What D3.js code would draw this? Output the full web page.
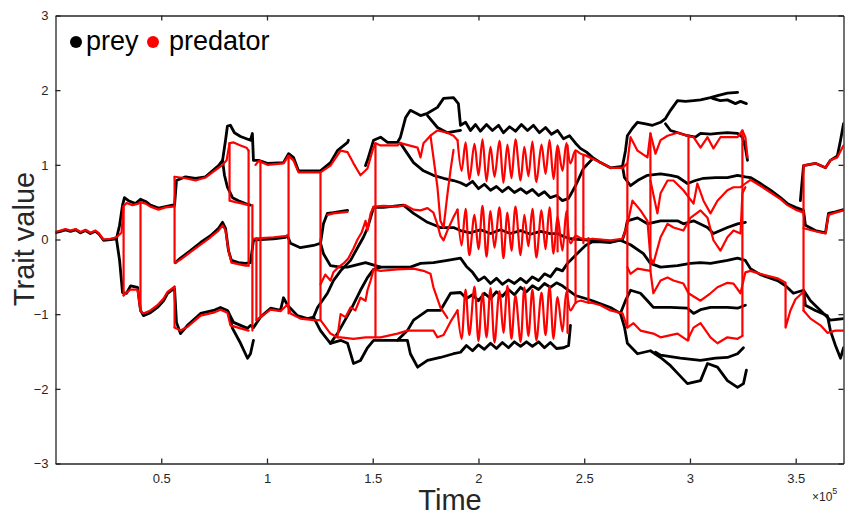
<!DOCTYPE html>
<html>
<head>
<meta charset="utf-8">
<script src="https://cdn.jsdelivr.net/npm/d3@7"></script>
<style>
  body { margin: 0; background: #fff; }
  svg { font-family: "Liberation Sans", Arial, sans-serif; display: block; }
</style>
</head>
<body>
<div id="chart"></div>
<script>
// tick values
const xTicks = [0.5, 1, 1.5, 2, 2.5, 3, 3.5];
const yTicks = [-3, -2, -1, 0, 1, 2, 3];

// prey trait branches, [time (x1e5), trait value]
const preyLeft = [
  [[0,.09],[.024,.11],[.047,.13],[.071,.11],[.095,.13],[.118,.09],[.142,.12],[.165,.08],[.189,.11],[.203,.08],[.227,-.01],[.260,0],[.288,.01],[.303,.19],[.317,.46],[.326,.56],[.345,.52],[.378,.48],[.402,.54],[.426,.51],[.449,.46],[.487,.42],[.520,.44],[.553,.46],[.563,.46],[.572,.79],[.615,.84],[.662,.82],[.709,.84],[.742,.92],[.771,.99],[.790,1.06],[.804,1.33],[.813,1.52],[.827,1.53],[.846,1.43],[.875,1.38],[.903,1.35],[.922,1.33],[.931,1.42],[.936,1.06],[.960,1.06],[1.002,1.02],[1.078,1.03],[1.102,1.15],[1.125,1.10],[1.149,.92],[1.191,.92],[1.253,.92],[1.300,1.03],[1.333,1.19],[1.381,1.30],[1.385,1.33]],
  [[.790,1.06],[.799,.86],[.813,.70],[.837,.56],[.865,.52],[.898,.48],[.922,.46]],
  [[.288,.01],[.303,-.28],[.317,-.71],[.336,-.72],[.355,-.62],[.388,-.64],[.402,-.95],[.416,-1.02],[.449,-.98],[.482,-.91],[.511,-.82],[.530,-.72],[.558,-.66],[.563,-.66],[.572,-1.11],[.591,-1.26],[.624,-1.15],[.686,-.99],[.747,-.95],[.780,-.91],[.813,-.95],[.842,-1.11],[.875,-1.15],[.908,-1.19],[.922,-1.15],[.936,-1.18],[.969,-1.04],[1.017,-.92],[1.064,-.95],[1.078,-.78],[1.097,-.88],[1.144,-1.02],[1.191,-1.06],[1.220,-1.04],[1.253,-1.22],[1.300,-1.39],[1.348,-1.35],[1.381,-1.39],[1.409,-1.66],[1.442,-1.62],[1.475,-1.45],[1.504,-1.35],[1.617,-1.35],[1.664,-1.35],[1.678,-1.53],[1.712,-1.71],[1.759,-1.62],[1.820,-1.58],[1.882,-1.53],[1.915,-1.51],[1.943,-1.42],[1.972,-1.49],[2.000,-1.41],[2.028,-1.47],[2.057,-1.39],[2.085,-1.46],[2.113,-1.38],[2.142,-1.45],[2.170,-1.37],[2.199,-1.43],[2.227,-1.37],[2.255,-1.43],[2.284,-1.37],[2.312,-1.45],[2.340,-1.38],[2.369,-1.46],[2.402,-1.45],[2.426,-1.42],[2.435,-1.15]],
  [[.818,-.98],[.837,-1.19],[.875,-1.39],[.908,-1.59],[.922,-1.53],[.936,-1.35]],
  [[.567,-.31],[.591,-.25],[.638,-.15],[.686,-.04],[.733,.05],[.771,.15],[.790,.23],[.804,.15],[.818,-.15],[.832,-.28],[.865,-.31],[.898,-.32],[.922,-.31],[.936,-.01],[.969,0],[1.031,.01],[1.087,.03],[1.097,.05],[1.111,-.05],[1.158,-.11],[1.220,-.08],[1.253,-.05],[1.267,-.19],[1.300,-.35],[1.348,-.37],[1.381,-.37],[1.466,-.31],[1.537,-.37],[1.678,-.37],[1.726,-.32],[1.787,-.31],[1.853,-.28],[1.915,-.25],[1.943,-.36],[1.972,-.44],[2.000,-.55],[2.028,-.50],[2.057,-.59],[2.085,-.52],[2.113,-.60],[2.142,-.54],[2.170,-.59],[2.199,-.52],[2.227,-.58],[2.255,-.50],[2.284,-.55],[2.312,-.46],[2.340,-.50],[2.369,-.39],[2.397,-.42],[2.421,-.32],[2.459,-.21],[2.506,-.08],[2.539,-.03],[2.577,-.03],[2.624,-.04],[2.671,-.01],[2.719,-.07],[2.780,-.19],[2.813,-.32],[2.861,-.37],[2.941,-.35],[3.002,-.32],[3.050,-.31],[3.097,-.32],[3.177,-.28],[3.225,-.25],[3.262,-.28],[3.286,-.39],[3.333,-.47],[3.414,-.55],[3.452,-.62],[3.489,-.72],[3.537,-.68],[3.546,-.88],[3.593,-.95],[3.650,-1.02],[3.664,-1.22],[3.688,-1.42],[3.712,-1.59],[3.726,-1.45]]
];

const preyCentre = [
  [[1.253,-.05],[1.267,.21],[1.286,.35],[1.314,.36],[1.381,.39]],
  [[1.220,-1.04],[1.239,-.91],[1.286,-.72],[1.314,-.55],[1.348,-.42],[1.395,-.28],[1.428,-.11],[1.456,.03],[1.475,.15],[1.504,.43],[1.551,.43],[1.645,.46],[1.693,.35],[1.759,.23],[1.820,.16],[1.882,.16],[1.915,.12],[1.962,.09],[2.009,.13],[2.057,.08],[2.104,.13],[2.151,.08],[2.199,.12],[2.246,.07],[2.293,.11],[2.340,.08],[2.374,.08],[2.402,.04],[2.435,.01],[2.482,0],[2.539,-.01],[2.577,-.01],[2.624,-.03],[2.681,0],[2.695,.12],[2.704,.25],[2.752,.29],[2.799,.21],[2.861,.25],[2.941,.25],[2.969,.21],[3.017,.25],[3.083,.16],[3.111,.08],[3.177,.16],[3.225,.21],[3.262,.23]],
  [[1.300,-1.39],[1.333,-1.26],[1.395,-.95],[1.442,-.68],[1.475,-.51],[1.504,-.40],[1.537,-.37]],
  [[1.617,-1.35],[1.664,-1.22],[1.693,-1.08],[1.759,-.95],[1.820,-.95],[1.868,-.72],[1.915,-.71],[1.943,-.79],[1.972,-.74],[2.000,-.82],[2.028,-.72],[2.057,-.79],[2.085,-.70],[2.113,-.76],[2.142,-.67],[2.170,-.74],[2.199,-.64],[2.227,-.70],[2.255,-.62],[2.284,-.67],[2.312,-.59],[2.340,-.64],[2.369,-.58],[2.397,-.62],[2.426,-.68],[2.459,-.75],[2.506,-.79],[2.539,-.82],[2.577,-.86],[2.624,-.91],[2.671,-.99],[2.695,-.82],[2.719,-.68],[2.766,-.72],[2.799,-.82],[2.827,-.91],[2.908,-.91],[2.988,-.92],[3.017,-.99],[3.050,-.94],[3.097,-.91],[3.177,-.91],[3.225,-.92],[3.262,-.88]],
  [[1.466,.99],[1.475,1.06],[1.504,1.33],[1.537,1.37],[1.570,1.30],[1.617,1.30],[1.631,1.37],[1.655,1.63],[1.678,1.73],[1.726,1.66],[1.759,1.69],[1.806,1.77],[1.835,1.89],[1.882,1.90],[1.905,1.82],[1.915,1.53],[1.939,1.57],[1.962,1.46],[1.986,1.54],[2.009,1.45],[2.038,1.54],[2.066,1.46],[2.095,1.53],[2.118,1.43],[2.147,1.51],[2.175,1.45],[2.203,1.54],[2.232,1.46],[2.260,1.53],[2.288,1.43],[2.317,1.50],[2.345,1.41],[2.374,1.46],[2.402,1.35],[2.430,1.39],[2.459,1.29],[2.482,1.22],[2.511,1.17],[2.539,1.10],[2.577,1.03],[2.624,.96],[2.681,.98],[2.695,1.19],[2.704,1.39],[2.728,1.49],[2.752,1.57],[2.790,1.55],[2.823,1.53],[2.861,1.57],[2.884,1.62],[2.908,1.73],[2.941,1.86],[2.979,1.85],[3.017,1.86],[3.050,1.87],[3.097,1.90],[3.135,1.93],[3.177,1.96],[3.225,1.97]],
  [[1.759,1.66],[1.806,1.50],[1.853,1.43],[1.915,1.46]],
  [[1.631,1.29],[1.664,1.15],[1.693,1.03],[1.740,.92],[1.787,.86],[1.835,.82],[1.882,.79],[1.915,.76],[1.943,.72],[1.972,.78],[2.000,.68],[2.028,.74],[2.057,.66],[2.085,.71],[2.113,.64],[2.142,.70],[2.170,.63],[2.199,.68],[2.227,.62],[2.255,.67],[2.284,.59],[2.312,.64],[2.340,.56],[2.369,.59],[2.397,.52],[2.426,.55],[2.459,.72],[2.496,.95],[2.539,1.08]]
];

const preyRight = [
  [[3.106,1.89],[3.144,1.86],[3.177,1.87],[3.215,1.82],[3.239,1.85],[3.267,1.82]],
  [[2.884,1.55],[2.908,1.46],[2.955,1.42],[2.988,1.39],[3.026,1.37],[3.050,1.42],[3.097,1.41],[3.130,1.42],[3.177,1.43],[3.225,1.42],[3.248,1.37],[3.262,1.23],[3.272,1.06]],
  [[2.681,.98],[2.690,.83],[2.719,.72],[2.752,.79],[2.799,.86],[2.861,.88],[2.908,.86],[2.941,.84],[2.988,.75],[3.026,.79],[3.064,.82],[3.121,.83],[3.177,.83],[3.225,.86],[3.262,.84],[3.286,.83],[3.333,.75],[3.381,.66],[3.428,.56],[3.461,.48],[3.499,.43],[3.537,.39],[3.546,.19],[3.593,.12],[3.641,.09],[3.655,.35],[3.688,.37],[3.726,.40]],
  [[3.522,.52],[3.537,.99],[3.593,1.02],[3.641,.96],[3.664,1.06],[3.697,1.12],[3.712,1.33],[3.726,1.55]],
  [[2.671,-.99],[2.690,-1.17],[2.704,-1.39],[2.752,-1.53],[2.813,-1.49],[2.861,-1.58],[2.908,-1.69],[2.941,-1.79],[2.988,-1.93],[3.050,-1.89],[3.083,-1.66],[3.130,-1.71],[3.177,-1.89],[3.225,-1.98],[3.253,-1.93],[3.267,-1.75]],
  [[2.837,-1.51],[2.861,-1.55],[2.955,-1.59],[3.050,-1.62],[3.121,-1.59],[3.177,-1.58],[3.225,-1.53],[3.253,-1.45]],
  [[3.537,-.68],[3.570,-.82],[3.617,-.95],[3.664,-1.08],[3.726,-1.06]]
];

// predator trait branches
const predatorLeft = [
  [[0,.1],[.024,.12],[.047,.14],[.071,.12],[.095,.14],[.118,.1],[.142,.13],[.165,.09],[.189,.12],[.203,.09],[.227,0],[.260,.01],[.288,.03],[.312,.09],[.322,.45],[.336,.49],[.364,.46],[.392,.48],[.402,.50],[.426,.48],[.449,.44],[.487,.40],[.520,.43],[.553,.44],[.563,.44]],
  [[.322,.45],[.322,-.75]],
  [[.402,.50],[.402,-.96]],
  [[.322,-.75],[.336,-.71],[.355,-.67],[.388,-.67],[.402,-.96],[.416,-.99],[.449,-.95],[.482,-.88],[.511,-.79],[.530,-.70],[.558,-.64],[.563,-.63]],
  [[.563,.84],[.563,-.31]],
  [[.563,-.63],[.563,-1.18]],
  [[.563,.84],[.615,.82],[.662,.79],[.709,.83],[.742,.90],[.771,.96],[.790,1.0],[.809,1.06],[.823,1.29],[.842,1.30],[.875,1.26],[.903,1.23],[.913,1.19]],
  [[.823,1.29],[.823,.52],[.851,.50],[.884,.48],[.913,.46]],
  [[.567,-.31],[.591,-.27],[.638,-.17],[.686,-.07],[.733,.03],[.771,.12],[.790,.19],[.804,.12],[.818,-.15],[.832,-.31],[.865,-.33],[.898,-.35],[.913,-.35]],
  [[.563,-1.18],[.591,-1.22],[.624,-1.17],[.686,-1.02],[.747,-.98],[.780,-.94],[.813,-.98],[.827,-1.15],[.875,-1.19],[.913,-1.22]],
  [[.913,1.19],[.913,-.35]],
  [[.931,.46],[.931,-1.22]],
  [[.950,.02],[.950,-1.08]],
  [[.969,1.05],[.969,-1.04]],
  [[.946,1.0],[.960,1.05],[1.002,1.0],[1.078,1.02],[1.102,1.12],[1.125,1.06],[1.149,.90],[1.253,.90],[1.300,.99],[1.348,1.19],[1.381,1.17],[1.409,1.02],[1.442,.86],[1.475,.95],[1.499,1.19],[1.513,1.29],[1.537,1.26],[1.617,1.26],[1.631,1.29],[1.712,1.23],[1.726,1.10],[1.740,1.29],[1.773,1.39],[1.806,1.46],[1.853,1.43],[1.882,1.39],[1.901,1.33]],
  [[.936,.01],[1.031,.03],[1.097,.05]],
  [[1.102,1.12],[1.102,-.99]],
  [[1.253,.90],[1.253,-1.08]],
  [[1.513,1.29],[1.513,-1.31]],
  [[.950,-1.08],[.969,-1.04],[1.017,-.94],[1.064,-.96],[1.097,-.87],[1.111,-.99],[1.158,-1.06],[1.220,-1.08],[1.253,-1.08],[1.300,-1.26],[1.333,-1.31],[1.348,-1.31],[1.409,-1.33],[1.466,-1.31],[1.504,-1.31],[1.537,-1.31],[1.617,-1.26],[1.664,-1.22],[1.712,-1.22],[1.787,-1.22],[1.806,-1.31],[1.835,-1.28],[1.868,-1.10],[1.901,-.95]]
];

const predatorCentre = [
  [[1.286,.33],[1.314,.35],[1.381,.37]],
  [[1.253,-.60],[1.276,-.47],[1.300,-.55],[1.314,-.44],[1.338,-.37],[1.362,-.32],[1.385,-.25],[1.409,-.12],[1.428,0],[1.447,.09],[1.466,.25],[1.475,.12],[1.490,.35],[1.504,.44],[1.551,.45],[1.617,.44],[1.655,.46],[1.693,.40],[1.726,.39],[1.759,.42],[1.787,.36],[1.806,.20],[1.820,.05],[1.835,-.01],[1.853,.12],[1.882,.30],[1.901,.40]],
  [[1.773,1.39],[1.787,1.10],[1.806,.70],[1.820,.25],[1.835,.16],[1.853,.60],[1.868,.93],[1.882,1.20]],
  [[1.333,-1.31],[1.348,-1.0],[1.371,-1.04],[1.395,-.91],[1.418,-.95],[1.442,-.78],[1.466,-.82],[1.475,-.68],[1.490,-.55],[1.504,-.40],[1.537,-.42],[1.617,-.40],[1.693,-.39],[1.740,-.42],[1.773,-.46],[1.787,-.64],[1.820,-.91],[1.853,-1.05]],
  [[2.374,1.23],[2.374,-.16]],
  [[2.421,1.26],[2.421,-1.25]],
  [[2.459,1.19],[2.459,-.85]],
  [[2.496,1.12],[2.496,-.05]],
  [[2.520,.02],[2.520,-.85]]
];

// fast predator oscillations in the three central bands
const predatorWaves = [
  [[1.901,1.33],[1.920,.92],[1.939,1.30],[1.957,.80],[1.981,1.28],[2.000,.86],[2.019,1.34],[2.038,.78],[2.057,1.24],[2.076,.84],[2.099,1.32],[2.118,.76],[2.137,1.27],[2.156,.82],[2.175,1.34],[2.199,.79],[2.217,1.24],[2.236,.85],[2.255,1.31],[2.274,.77],[2.298,1.27],[2.317,.88],[2.336,1.33],[2.355,.81],[2.374,1.26],[2.397,.92],[2.416,1.29],[2.435,1.02],[2.459,1.19],[2.482,1.15],[2.511,1.12],[2.539,1.08]],
  [[1.901,.40],[1.920,-.08],[1.939,.41],[1.957,-.21],[1.981,.33],[2.000,-.13],[2.019,.45],[2.038,-.23],[2.057,.38],[2.076,-.11],[2.099,.43],[2.118,-.25],[2.137,.36],[2.156,-.15],[2.175,.44],[2.199,-.21],[2.217,.33],[2.236,-.09],[2.255,.41],[2.274,-.24],[2.298,.39],[2.317,-.13],[2.336,.43],[2.355,-.19],[2.374,.31],[2.397,-.15],[2.416,.38],[2.435,-.05],[2.459,.05],[2.482,.02],[2.511,0],[2.539,.01]],
  [[1.901,-.95],[1.920,-1.33],[1.939,-.67],[1.957,-1.28],[1.981,-.63],[2.000,-1.36],[2.019,-.72],[2.038,-1.31],[2.057,-.65],[2.076,-1.38],[2.099,-.69],[2.118,-1.25],[2.137,-.62],[2.156,-1.33],[2.175,-.75],[2.199,-1.37],[2.217,-.64],[2.236,-1.29],[2.255,-.67],[2.274,-1.35],[2.298,-.71],[2.317,-1.28],[2.336,-.63],[2.355,-1.33],[2.374,-.77],[2.397,-1.23],[2.416,-.70],[2.435,-.95],[2.459,-.85],[2.482,-.82],[2.511,-.84],[2.539,-.85]]
];

const predatorRight = [
  [[2.539,1.08],[2.577,1.03],[2.624,.96],[2.681,.96],[2.704,1.02],[2.719,1.37],[2.752,1.19],[2.799,1.10],[2.813,1.42],[2.837,1.15],[2.861,1.33],[2.894,1.39],[2.941,1.43],[2.988,1.39],[3.017,1.37],[3.050,1.23],[3.083,1.37],[3.111,1.22],[3.144,1.37],[3.225,1.37],[3.248,1.46],[3.262,1.37],[3.272,1.10]],
  [[2.539,.01],[2.577,0],[2.624,-.01],[2.681,.01],[2.704,.20],[2.728,.52],[2.766,.39],[2.799,.25],[2.813,-.24],[2.827,-.32],[2.861,.03],[2.894,.21],[2.922,.16],[2.969,.12],[3.002,.29],[3.050,.39],[3.083,.29],[3.111,-.01],[3.144,-.15],[3.177,.03],[3.206,.12],[3.239,.08],[3.248,.62],[3.262,.70]],
  [[2.539,-.85],[2.577,-.88],[2.624,-.95],[2.681,-.99],[2.704,-1.18],[2.733,-1.12],[2.766,-1.22],[2.827,-1.26],[2.861,-1.31],[2.941,-1.26],[2.988,-1.35],[3.017,-1.18],[3.050,-1.12],[3.097,-1.31],[3.130,-1.39],[3.177,-1.31],[3.225,-1.33],[3.248,-1.29]],
  [[2.813,.79],[2.846,.35],[2.861,.62],[2.894,.79],[2.922,.79],[2.969,.66],[3.017,.48],[3.035,.75],[3.064,.52],[3.097,.35],[3.130,.52],[3.177,.66],[3.206,.70],[3.239,.70],[3.262,.75],[3.286,.80],[3.333,.72],[3.381,.63],[3.428,.54],[3.461,.46],[3.499,.40],[3.537,.36]],
  [[2.704,-.37],[2.719,-.46],[2.752,-.39],[2.813,-.42],[2.827,-.72],[2.861,-.55],[2.894,-.51],[2.922,-.55],[2.969,-.59],[2.993,-.72],[3.050,-.82],[3.097,-.72],[3.130,-.64],[3.177,-.58],[3.206,-.59],[3.239,-.72],[3.262,-.44],[3.286,-.42],[3.333,-.46],[3.414,-.52],[3.452,-.58],[3.452,-1.18],[3.475,-.95],[3.499,-.80],[3.537,-.70]],
  [[2.704,1.02],[2.704,-1.18]],
  [[2.813,1.42],[2.813,-.42]],
  [[2.993,1.39],[2.993,-1.35]],
  [[3.248,1.46],[3.248,-1.29]],
  [[3.537,.99],[3.537,-.95]],
  [[3.537,.99],[3.593,1.02],[3.641,.96],[3.664,1.06],[3.697,1.10],[3.726,1.26]],
  [[3.537,.15],[3.593,.11],[3.641,.08],[3.655,.33],[3.688,.36],[3.726,.39]],
  [[3.537,-.95],[3.570,-1.06],[3.617,-1.15],[3.650,-1.25],[3.688,-1.22],[3.726,-1.22]]
];

const width = 846;
const height = 516;
const plot = { left: 55.5, right: 843.5, top: 15.5, bottom: 463.5 };

const xScale = d3.scaleLinear().domain([0, 3.726]).range([plot.left, plot.right]);
const yScale = d3.scaleLinear().domain([-3, 3]).range([plot.bottom, plot.top]);

const svg = d3.select("#chart").append("svg")
    .attr("width", width)
    .attr("height", height);

svg.append("defs").append("clipPath").attr("id", "clip")
  .append("rect")
    .attr("x", plot.left).attr("y", plot.top)
    .attr("width", plot.right - plot.left).attr("height", plot.bottom - plot.top);

const line = d3.line().x(d => xScale(d[0])).y(d => yScale(d[1]));
const waveLine = d3.line().curve(d3.curveCatmullRom.alpha(0.5)).x(d => xScale(d[0])).y(d => yScale(d[1]));

const lines = svg.append("g").attr("clip-path", "url(#clip)")
    .attr("fill", "none").attr("stroke-linejoin", "round").attr("stroke-linecap", "round");

lines.selectAll(".prey")
  .data(preyLeft.concat(preyCentre, preyRight))
  .enter().append("path")
    .attr("class", "prey")
    .attr("d", line)
    .attr("stroke", "#000")
    .attr("stroke-width", 2.8);

lines.selectAll(".predator")
  .data(predatorLeft.concat(predatorCentre, predatorRight))
  .enter().append("path")
    .attr("class", "predator")
    .attr("d", line)
    .attr("stroke", "#ff0000")
    .attr("stroke-width", 2.2);

lines.selectAll(".wave")
  .data(predatorWaves)
  .enter().append("path")
    .attr("class", "wave")
    .attr("d", waveLine)
    .attr("stroke", "#ff0000")
    .attr("stroke-width", 2.2);

// axes, MATLAB style: box with inward ticks
const axisColor = "#262626";
const axBottom = svg.append("g").attr("transform", `translate(0,${plot.bottom})`)
    .call(d3.axisBottom(xScale).tickValues(xTicks).tickSizeInner(-5).tickSizeOuter(0).tickPadding(10).tickFormat(d3.format("")));
const axLeft = svg.append("g").attr("transform", `translate(${plot.left},0)`)
    .call(d3.axisLeft(yScale).tickValues(yTicks).tickSizeInner(-5).tickSizeOuter(0).tickPadding(7).tickFormat(d3.format("")));
const axTop = svg.append("g").attr("transform", `translate(0,${plot.top})`)
    .call(d3.axisTop(xScale).tickValues(xTicks).tickSizeInner(-5).tickSizeOuter(0).tickFormat(""));
const axRight = svg.append("g").attr("transform", `translate(${plot.right},0)`)
    .call(d3.axisRight(yScale).tickValues(yTicks).tickSizeInner(-5).tickSizeOuter(0).tickFormat(""));

[axBottom, axLeft, axTop, axRight].forEach(g => {
  g.select(".domain").attr("stroke", axisColor).attr("stroke-width", 1.3);
  g.selectAll(".tick line").attr("stroke", axisColor).attr("stroke-width", 1.3);
  g.selectAll(".tick text").attr("fill", axisColor).attr("font-size", 13)
    .attr("font-family", "'Liberation Sans', Arial, sans-serif");
});

// exponent label
const expo = svg.append("text").attr("x", 812).attr("y", 501)
    .attr("fill", axisColor).attr("font-size", 12);
expo.append("tspan").text("\u00d710");
expo.append("tspan").attr("dy", -7).attr("font-size", 9).text("5");

// axis titles
svg.append("text")
    .attr("x", 450).attr("y", 510)
    .attr("text-anchor", "middle")
    .attr("font-size", 29)
    .attr("fill", axisColor)
    .text("Time");

svg.append("text")
    .attr("transform", "translate(34,239) rotate(-90)")
    .attr("text-anchor", "middle")
    .attr("font-size", 29)
    .attr("fill", axisColor)
    .text("Trait value");

// legend
const legend = svg.append("g");
legend.append("circle").attr("cx", 76).attr("cy", 42).attr("r", 6).attr("fill", "#000");
legend.append("text").attr("x", 86).attr("y", 50).attr("font-size", 27).attr("fill", "#000").text("prey");
legend.append("circle").attr("cx", 153).attr("cy", 42).attr("r", 6).attr("fill", "#ff0000");
legend.append("text").attr("x", 169).attr("y", 50).attr("font-size", 27).attr("fill", "#000").text("predator");
</script>
</body>
</html>
